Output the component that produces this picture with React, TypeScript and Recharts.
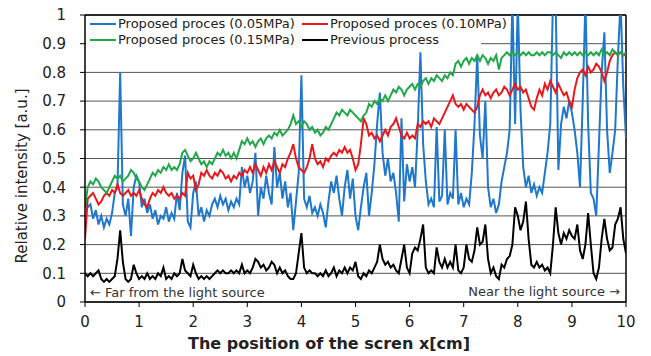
import { LineChart, Line, XAxis, YAxis, CartesianGrid, Legend, ReferenceLine } from 'recharts';

// sampled every 0.05 cm from 0 to 10
const blue = [
  0.36, 0.33, 0.34, 0.29, 0.32, 0.27, 0.30, 0.26, 0.29, 0.27, 0.31, 0.38, 0.40, 0.80, 0.34, 0.30, 0.36, 0.23, 0.40, 0.44,
  0.42, 0.33, 0.36, 0.31, 0.34, 0.29, 0.32, 0.27, 0.30, 0.29, 0.33, 0.28, 0.31, 0.29, 0.38, 0.32, 0.45, 0.51, 0.28, 0.26,
  0.38, 0.42, 0.30, 0.33, 0.28, 0.32, 0.30, 0.34, 0.36, 0.33, 0.37, 0.34, 0.36, 0.32, 0.35, 0.33, 0.36, 0.34, 0.47, 0.40,
  0.44, 0.38, 0.42, 0.52, 0.30, 0.40, 0.36, 0.44, 0.38, 0.34, 0.54, 0.40, 0.45, 0.36, 0.42, 0.33, 0.38, 0.25, 0.35, 0.45,
  0.79, 0.36, 0.33, 0.37, 0.31, 0.33, 0.30, 0.34, 0.31, 0.26, 0.35, 0.42, 0.38, 0.44, 0.36, 0.30, 0.40, 0.46, 0.36, 0.43,
  0.30, 0.25, 0.33, 0.40, 0.45, 0.30, 0.38, 0.48, 0.62, 0.73, 0.52, 0.44, 0.50, 0.42, 0.45, 0.38, 0.28, 0.64, 0.35, 0.48,
  0.42, 0.47, 0.40, 0.60, 0.87, 0.55, 0.42, 0.34, 0.36, 0.33, 0.61, 0.35, 0.37, 0.60, 0.34, 0.38, 0.36, 0.60, 0.34, 0.38,
  0.33, 0.36, 0.34, 0.45, 0.62, 0.86, 0.58, 0.50, 0.70, 0.40, 0.33, 0.36, 0.31, 0.34, 0.42, 0.47, 0.52, 0.60, 1.05, 0.62,
  1.05, 0.67, 0.47, 0.40, 0.44, 0.38, 0.41, 0.37, 0.40, 0.38, 0.45, 0.52, 0.62, 1.05, 1.05, 0.46, 0.62, 0.68, 0.64, 0.70,
  0.66, 0.60, 0.52, 0.40, 0.70, 1.05, 0.62, 0.38, 0.36, 0.30, 0.55, 0.80, 0.94, 0.60, 0.45, 0.52, 0.60, 0.85, 1.05, 0.75,
  0.57,
];

const red = [
  0.22, 0.36, 0.37, 0.38, 0.36, 0.34, 0.35, 0.37, 0.38, 0.37, 0.39, 0.38, 0.41, 0.38, 0.37, 0.38, 0.39, 0.37, 0.38, 0.37,
  0.39, 0.36, 0.34, 0.33, 0.36, 0.38, 0.37, 0.39, 0.38, 0.40, 0.38, 0.37, 0.38, 0.36, 0.37, 0.36, 0.38, 0.37, 0.45, 0.43,
  0.44, 0.39, 0.41, 0.45, 0.44, 0.46, 0.44, 0.43, 0.45, 0.44, 0.46, 0.45, 0.43, 0.44, 0.42, 0.44, 0.43, 0.45, 0.44, 0.46,
  0.45, 0.47, 0.45, 0.48, 0.46, 0.44, 0.47, 0.45, 0.48, 0.46, 0.49, 0.47, 0.45, 0.48, 0.47, 0.50, 0.52, 0.55, 0.50, 0.47,
  0.46, 0.45, 0.47, 0.50, 0.55, 0.50, 0.48, 0.49, 0.47, 0.50, 0.49, 0.51, 0.52, 0.51, 0.53, 0.52, 0.54, 0.52, 0.53, 0.50,
  0.46, 0.48, 0.55, 0.64, 0.62, 0.58, 0.59, 0.57, 0.58, 0.56, 0.58, 0.60, 0.58, 0.61, 0.62, 0.64, 0.61, 0.58, 0.57, 0.59,
  0.57, 0.58, 0.57, 0.62, 0.61, 0.63, 0.62, 0.63, 0.61, 0.64, 0.63, 0.62, 0.64, 0.66, 0.68, 0.70, 0.72, 0.69, 0.68, 0.69,
  0.67, 0.69, 0.68, 0.67, 0.66, 0.68, 0.72, 0.74, 0.72, 0.73, 0.71, 0.73, 0.74, 0.72, 0.73, 0.75, 0.74, 0.72, 0.74, 0.76,
  0.74, 0.75, 0.73, 0.74, 0.71, 0.68, 0.67, 0.71, 0.74, 0.72, 0.76, 0.74, 0.77, 0.75, 0.73, 0.76, 0.74, 0.72, 0.73, 0.70,
  0.68, 0.74, 0.78, 0.80, 0.81, 0.79, 0.82, 0.80, 0.81, 0.83, 0.82, 0.80, 0.77, 0.80, 0.84, 0.86, 0.87, 0.86, 0.87, 0.86,
  0.86,
];

const green = [
  0.33, 0.40, 0.42, 0.41, 0.43, 0.42, 0.40, 0.39, 0.38, 0.40, 0.42, 0.44, 0.43, 0.44, 0.42, 0.43, 0.44, 0.46, 0.45, 0.43,
  0.42, 0.40, 0.39, 0.41, 0.43, 0.45, 0.44, 0.46, 0.45, 0.47, 0.46, 0.48, 0.46, 0.47, 0.46, 0.48, 0.52, 0.53, 0.51, 0.49,
  0.50, 0.52, 0.50, 0.48, 0.49, 0.47, 0.49, 0.48, 0.50, 0.52, 0.51, 0.53, 0.51, 0.52, 0.50, 0.52, 0.50, 0.53, 0.56, 0.55,
  0.57, 0.55, 0.56, 0.54, 0.56, 0.57, 0.55, 0.57, 0.58, 0.57, 0.59, 0.58, 0.60, 0.58, 0.59, 0.60, 0.62, 0.65, 0.62, 0.63,
  0.61, 0.63, 0.62, 0.60, 0.61, 0.59, 0.60, 0.58, 0.59, 0.61, 0.60, 0.62, 0.64, 0.66, 0.65, 0.67, 0.66, 0.65, 0.67, 0.66,
  0.65, 0.64, 0.63, 0.65, 0.66, 0.69, 0.68, 0.70, 0.69, 0.71, 0.70, 0.72, 0.70, 0.72, 0.74, 0.73, 0.75, 0.74, 0.72, 0.74,
  0.75, 0.76, 0.74, 0.76, 0.75, 0.77, 0.78, 0.76, 0.78, 0.77, 0.79, 0.78, 0.77, 0.79, 0.78, 0.80, 0.79, 0.83, 0.84, 0.82,
  0.84, 0.85, 0.83, 0.85, 0.84, 0.86, 0.84, 0.86, 0.85, 0.83, 0.85, 0.84, 0.86, 0.81, 0.85, 0.86, 0.87, 0.86, 0.87, 0.86,
  0.87, 0.86, 0.87, 0.86, 0.87, 0.86, 0.86, 0.87, 0.86, 0.87, 0.86, 0.87, 0.87, 0.86, 0.87, 0.86, 0.85, 0.87, 0.86, 0.87,
  0.86, 0.87, 0.86, 0.87, 0.86, 0.87, 0.86, 0.87, 0.86, 0.87, 0.86, 0.88, 0.86, 0.87, 0.86, 0.88, 0.87, 0.86, 0.87, 0.86,
  0.87,
];

const black = [
  0.10, 0.09, 0.10, 0.09, 0.10, 0.11, 0.08, 0.07, 0.08, 0.07, 0.08, 0.09, 0.15, 0.25, 0.14, 0.08, 0.07, 0.08, 0.13, 0.10,
  0.08, 0.09, 0.08, 0.10, 0.08, 0.09, 0.08, 0.10, 0.09, 0.12, 0.08, 0.09, 0.08, 0.10, 0.09, 0.10, 0.15, 0.11, 0.10, 0.09,
  0.13, 0.10, 0.08, 0.09, 0.08, 0.09, 0.08, 0.09, 0.10, 0.11, 0.10, 0.11, 0.10, 0.10, 0.11, 0.10, 0.11, 0.10, 0.13, 0.10,
  0.11, 0.10, 0.12, 0.15, 0.14, 0.12, 0.13, 0.11, 0.12, 0.14, 0.13, 0.10, 0.12, 0.10, 0.11, 0.09, 0.08, 0.08, 0.10, 0.17,
  0.24, 0.12, 0.10, 0.11, 0.10, 0.10, 0.09, 0.10, 0.09, 0.11, 0.09, 0.10, 0.12, 0.09, 0.11, 0.10, 0.12, 0.10, 0.12, 0.11,
  0.14, 0.09, 0.08, 0.10, 0.09, 0.11, 0.10, 0.12, 0.14, 0.20, 0.15, 0.13, 0.14, 0.12, 0.13, 0.11, 0.10, 0.15, 0.20, 0.12,
  0.10, 0.17, 0.19, 0.18, 0.22, 0.27, 0.12, 0.10, 0.11, 0.10, 0.19, 0.14, 0.12, 0.15, 0.12, 0.14, 0.12, 0.20, 0.11, 0.10,
  0.12, 0.20, 0.15, 0.14, 0.18, 0.26, 0.20, 0.21, 0.27, 0.15, 0.10, 0.12, 0.09, 0.08, 0.13, 0.12, 0.15, 0.16, 0.20, 0.33,
  0.30, 0.25, 0.28, 0.35, 0.22, 0.13, 0.12, 0.14, 0.12, 0.13, 0.11, 0.12, 0.10, 0.20, 0.33, 0.24, 0.20, 0.24, 0.22, 0.25,
  0.23, 0.22, 0.27, 0.18, 0.15, 0.20, 0.31, 0.20, 0.10, 0.08, 0.12, 0.22, 0.29, 0.22, 0.18, 0.19, 0.27, 0.29, 0.33, 0.22,
  0.17,
];

const xTicks = [0, 1, 2, 3, 4, 5, 6, 7, 8, 9, 10];
const yTicks = [0, 0.1, 0.2, 0.3, 0.4, 0.5, 0.6, 0.7, 0.8, 0.9, 1];

const series = [
  { key: 'blue', name: 'Proposed proces (0.05MPa)', color: '#1f78cc' },
  { key: 'red', name: 'Proposed proces (0.10MPa)', color: '#e8181c' },
  { key: 'green', name: 'Proposed proces (0.15MPa)', color: '#20a84a' },
  { key: 'black', name: 'Previous process', color: '#000000' },
];

const data = blue.map((b, i) => ({
  x: Number((i * 0.05).toFixed(2)),
  blue: b,
  red: red[i],
  green: green[i],
  black: black[i],
}));

const FONT = '"DejaVu Sans", sans-serif';

function LegendBox() {
  const item = (s: typeof series[number]) => (
    <div key={s.key} style={{ display: 'flex', alignItems: 'center', width: 212, flexShrink: 0, whiteSpace: 'nowrap' }}>
      <span style={{ display: 'inline-block', width: 26, height: 2, background: s.color, marginRight: 2 }} />
      <span>{s.name}</span>
    </div>
  );
  return (
    <div style={{ fontFamily: FONT, fontSize: 13, color: '#222', lineHeight: '15px', paddingLeft: 4, textAlign: 'left' }}>
      <div style={{ display: 'flex' }}>{item(series[0])}{item(series[1])}</div>
      <div style={{ display: 'flex', marginTop: 1 }}>{item(series[2])}{item(series[3])}</div>
    </div>
  );
}

export default function App() {
  return (
    <div style={{ position: 'absolute', left: 0, top: 0, width: 651, height: 356, background: '#fff' }}>
      <LineChart width={651} height={356} data={data} margin={{ top: 15, right: 25, bottom: 0, left: 0 }}>
        <CartesianGrid vertical={false} stroke="#555" strokeWidth={1} />
        <XAxis
          dataKey="x"
          type="number"
          domain={[0, 10]}
          ticks={xTicks}
          allowDataOverflow
          height={54}
          tickSize={5}
          tickMargin={9}
          axisLine={{ stroke: '#000', strokeWidth: 1.5 }}
          tickLine={{ stroke: '#000' }}
          tick={{ fontSize: 15, fill: '#222', fontFamily: FONT }}
          label={() => (
            <text x={329} y={343} textAnchor="middle" dominantBaseline="central" fontFamily={FONT} fontSize={16} fontWeight="bold" fill="#222">
              The position of the scren x[cm]
            </text>
          )}
        />
        <YAxis
          type="number"
          domain={[0, 1]}
          ticks={yTicks}
          allowDataOverflow
          width={85}
          tickSize={5}
          tickMargin={14}
          axisLine={{ stroke: '#000', strokeWidth: 1.5 }}
          tickLine={{ stroke: '#000' }}
          tick={{ fontSize: 15, fill: '#222', fontFamily: FONT }}
          label={() => (
            <text x={22} y={176} transform="rotate(-90 22 176)" textAnchor="middle" dominantBaseline="central" fontFamily={FONT} fontSize={15} fill="#222">
              Relative intensity [a.u.]
            </text>
          )}
        />
        <ReferenceLine x={10} stroke="#000" strokeWidth={1.5} />
        <ReferenceLine y={1} stroke="#000" strokeWidth={1.5} />
        <ReferenceLine
          y={0}
          stroke="none"
          label={{ value: '← Far from the light source', position: 'insideBottomLeft', offset: 5, fontSize: 13, fill: '#333', fontFamily: FONT }}
        />
        <ReferenceLine
          y={0}
          stroke="none"
          label={{ value: 'Near the light source →', position: 'insideBottomRight', offset: 6, fontSize: 13, fill: '#333', fontFamily: FONT }}
        />
        {series.map((s) => (
          <Line
            key={s.key}
            type="linear"
            dataKey={s.key}
            name={s.name}
            stroke={s.color}
            strokeWidth={2}
            dot={false}
            isAnimationActive={false}
          />
        ))}
        <Legend
          layout="horizontal"
          align="center"
          verticalAlign="middle"
          content={() => <LegendBox />}
          wrapperStyle={{ position: 'absolute', top: 16, left: 86, width: 395, height: 32, background: '#fff' }}
        />
      </LineChart>
    </div>
  );
}
